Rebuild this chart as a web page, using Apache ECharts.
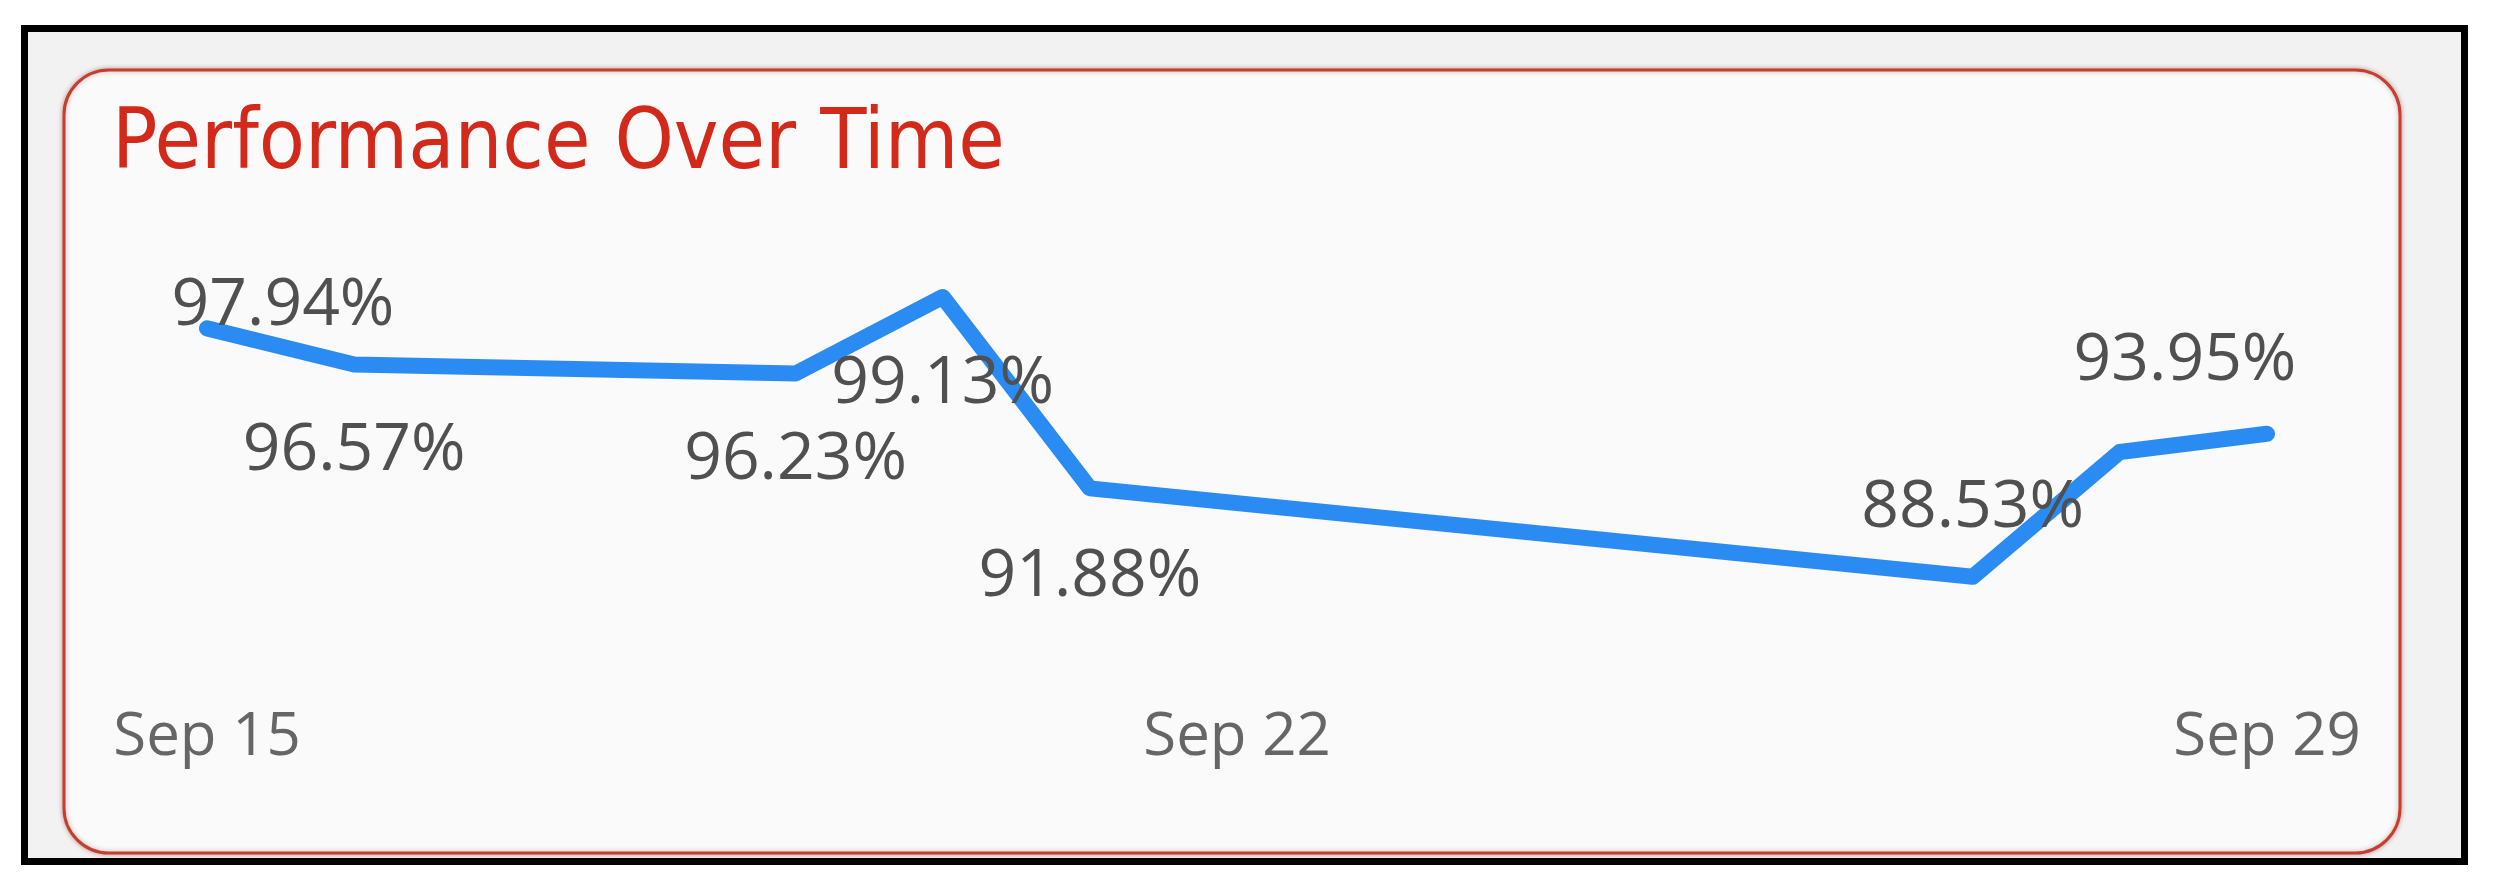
<!DOCTYPE html>
<html>
<head>
<meta charset="utf-8">
<script src="https://cdn.jsdelivr.net/npm/echarts@6/dist/echarts.min.js"></script>
<style>
  html, body { margin: 0; padding: 0; background: #ffffff; }
  #chart { width: 2499px; height: 895px; }
</style>
</head>
<body>
<div id="chart"></div>
<script>
// ---- data ----
const titleText = 'Performance Over Time';
const dates = ['Sep 15', 'Sep 16', 'Sep 19', 'Sep 20', 'Sep 21', 'Sep 27', 'Sep 28', 'Sep 29'];
const performance = [97.94, 96.57, 96.23, 99.13, 91.88, 88.53, 93.26, 93.95];
const showLabel = [true, true, true, true, true, true, false, true];
const tickLabels = ['Sep 15', 'Sep 22', 'Sep 29'];

// ---- label layout (offsets of label centre from each point, px) ----
const labelOffsets = [[76, -22], [0, 87], [0, 87], [0, 87], [0, 89], [0, -69], [0, 0], [-82, -73]];

const firstDay = parseInt(dates[0].split(' ')[1], 10);
const dayIndex = dates.map(d => parseInt(d.split(' ')[1], 10) - firstDay);

const seriesData = performance.map((v, i) => ({
  value: [dayIndex[i], v],
  label: {
    show: showLabel[i],
    position: [0.5 + labelOffsets[i][0], 0.5 + labelOffsets[i][1]],
    align: 'center',
    verticalAlign: 'middle'
  }
}));

const chart = echarts.init(document.getElementById('chart'), null, { renderer: 'canvas' });
chart.setOption({
  backgroundColor: '#ffffff',
  animation: false,
  title: {
    text: titleText,
    left: 112,
    top: 104,
    padding: 0,
    textStyle: {
      fontFamily: '"DejaVu Sans Condensed", "DejaVu Sans"',
      fontWeight: 'normal',
      fontSize: 84,
      color: '#d3291b'
    }
  },
  graphic: {
    elements: [
      {
        type: 'rect', z: -20, silent: true,
        shape: { x: 24.5, y: 28.5, width: 2440, height: 833 },
        style: { fill: '#f2f2f2', stroke: '#000000', lineWidth: 7 }
      },
      {
        type: 'rect', z: -10, silent: true,
        shape: { x: 64, y: 70, width: 2336, height: 783, r: 45 },
        style: {
          fill: '#fafafa', stroke: '#c43f2f', lineWidth: 3,
          shadowColor: 'rgba(120, 30, 20, 0.35)', shadowBlur: 5
        }
      }
    ]
  },
  grid: { left: 207, right: 232, top: 274, bottom: 225, containLabel: false },
  xAxis: {
    type: 'value',
    min: 0,
    max: 14,
    interval: 7,
    axisLine: { show: false },
    axisTick: { show: false },
    splitLine: { show: false },
    axisLabel: {
      margin: 38,
      fontFamily: '"Open Sans"',
      fontSize: 60,
      color: '#666666',
      formatter: v => tickLabels[Math.round(v / 7)] || ''
    }
  },
  yAxis: {
    type: 'value',
    min: 85,
    max: 100,
    show: false,
    splitLine: { show: false }
  },
  series: [{
    type: 'line',
    data: seriesData,
    showSymbol: true,
    symbol: 'circle',
    symbolSize: 1,
    itemStyle: { color: '#2a8cf3' },
    lineStyle: { color: '#2a8cf3', width: 16, cap: 'round', join: 'round' },
    label: {
      formatter: p => p.value[1].toFixed(2) + '%',
      fontFamily: '"Open Sans"',
      fontSize: 66,
      color: '#505050'
    },
    z: 5
  }]
});
</script>
</body>
</html>
